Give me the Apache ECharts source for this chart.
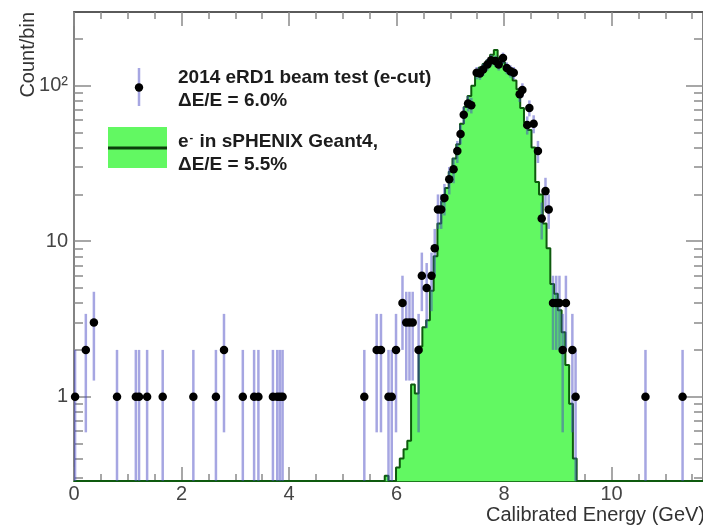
<!DOCTYPE html>
<html>
<head>
<meta charset="utf-8">
<script src="https://cdn.jsdelivr.net/npm/echarts@6/dist/echarts.min.js"></script>
<style>
html,body{margin:0;padding:0;background:#ffffff;}
#chart{width:703px;height:530px;}
</style>
</head>
<body>
<div id="chart"></div>
<script>
// ---- Beam test data points (bin centre in GeV, counts, error) ----
const dataX = [0.02,0.22,0.37,0.80,1.15,1.21,1.36,1.65,2.22,2.64,
               2.79,3.14,3.35,3.43,3.70,3.78,3.83,3.88,5.40,5.63,
               5.71,5.85,5.91,5.99,6.11,6.18,6.24,6.30,6.41,6.47,
               6.56,6.65,6.71,6.77,6.83,6.89,6.98,7.06,7.13,7.19,
               7.25,7.33,7.39,7.49,7.55,7.61,7.69,7.76,7.84,7.90,
               7.98,8.05,8.12,8.18,8.29,8.34,8.43,8.47,8.55,8.63,
               8.70,8.77,8.83,8.91,8.97,9.03,9.09,9.15,9.27,9.33,
               10.63,11.32];
const dataY = [1,2,3,1,1,1,1,1,1,1,
               2,1,1,1,1,1,1,1,1,2,
               2,1,1,2,4,3,3,3,2,6,
               5,6,9,16,16,19,25,29,38,49,
               65,77,75,121,120,127,137,146,144,137,
               151,130,124,121,88,94,56,72,57,38,
               14,21,16,4,4,4,2,4,2,1,
               1,1];
const dataErr = [1,1.41,1.73,1,1,1,1,1,1,1,
                 1.41,1,1,1,1,1,1,1,1,1.41,
                 1.41,1,1,1.41,2,1.73,1.73,1.73,1.41,2.45,
                 2.24,2.45,3,4,4,4.36,5,5.39,6.16,7,
                 8.06,8.77,8.66,11,10.95,11.27,11.7,12.08,12,11.7,
                 12.29,11.4,11.14,11,9.38,9.7,7.48,8.49,7.55,6.16,
                 3.74,4.58,4,2,2,2,1.41,2,1.41,1,
                 1,1];

// ---- Geant4 simulation histogram ----
const simStart = 5.78;      // left edge of first bin (GeV)
const simBinWidth = 0.07;   // GeV
const simCounts = [0.31,0,0,0.35,0.40,0.46,0.52,1.2,1.05,2.1,
                   2.8,3.1,4.8,8.0,13,18,22,28,34,42,
                   57,73,86,100,118,131,138,146,158,170,
                   151,141,130,118,108,95,72,58,52,40,
                   24,20,13,9,5.3,4.6,3.6,2.6,1.6,0.9,
                   0.4];

// ---- Axes ----
const X_MIN = 0, X_MAX = 11.7;
const Y_MIN = 0.287, Y_MAX = 298;
const xMajorTicks = [0,2,4,6,8,10];
const xMinorTicks = [0.5,1,1.5,2.5,3,3.5,4.5,5,5.5,6.5,7,7.5,8.5,9,9.5,10.5,11,11.5];
const yMajorTicks = [1,10,100];
const yTickLabels = ['1','10','10\u00B2'];
const yMinorTicks = [0.3,0.4,0.5,0.6,0.7,0.8,0.9,2,3,4,5,6,7,8,9,20,30,40,50,60,70,80,90,200];

const FONT = '"Liberation Sans", Arial, Helvetica, sans-serif';

// build histogram step line (left edge + value), zero bins drawn on the frame
const simLine = [[X_MIN, Y_MIN]];
simCounts.forEach(function (c, i) {
  simLine.push([+(simStart + i * simBinWidth).toFixed(4), Math.max(c, Y_MIN)]);
});
simLine.push([+(simStart + simCounts.length * simBinWidth).toFixed(4), Y_MIN]);
simLine.push([X_MAX, Y_MIN]);

const points = dataX.map(function (x, i) { return [x, dataY[i], dataErr[i]]; });

const chart = echarts.init(document.getElementById('chart'), null, {renderer: 'canvas'});

function xAxisDef(pos, ticks, len, showLine, showLabel, lineColor) {
  return {
    type: 'value', position: pos, min: X_MIN, max: X_MAX,
    axisLine: {show: showLine, onZero: false, lineStyle: {color: lineColor, width: 2}},
    axisTick: {show: true, inside: true, length: len, customValues: ticks,
               lineStyle: {color: '#8a8a8a', width: 1.5}},
    axisLabel: {show: showLabel, customValues: ticks, fontSize: 20, color: '#444',
                fontFamily: FONT, margin: 3},
    splitLine: {show: false}, minorTick: {show: false}
  };
}
function yAxisDef(pos, ticks, len, showLine, showLabel) {
  return {
    type: 'log', logBase: 10, position: pos, min: Y_MIN, max: Y_MAX,
    axisLine: {show: showLine, onZero: false, lineStyle: {color: '#5a5a5a', width: 1.5}},
    axisTick: {show: true, inside: true, length: len, customValues: ticks,
               lineStyle: {color: '#8a8a8a', width: 1.5}},
    axisLabel: {show: showLabel, customValues: ticks, fontSize: 20, color: '#444',
                fontFamily: FONT, margin: 6,
                formatter: function (v) {
                  for (let k = 0; k < yMajorTicks.length; k++) {
                    if (Math.abs(v - yMajorTicks[k]) < 1e-6 * yMajorTicks[k]) return yTickLabels[k];
                  }
                  return '';
                }},
    splitLine: {show: false}, minorTick: {show: false}
  };
}

const option = {
  backgroundColor: '#ffffff',
  animation: false,
  grid: {left: 74, right: -1, top: 12, bottom: 49, containLabel: false},
  xAxis: [
    xAxisDef('bottom', xMajorTicks, 14, true, true, '#1d7a1d'),
    xAxisDef('bottom', xMinorTicks, 7, false, false, '#1d7a1d'),
    xAxisDef('top', xMajorTicks, 14, true, false, '#5a5a5a'),
    xAxisDef('top', xMinorTicks, 7, false, false, '#5a5a5a')
  ],
  yAxis: [
    yAxisDef('left', yMajorTicks, 17, true, true),
    yAxisDef('left', yMinorTicks, 9, false, false),
    yAxisDef('right', yMajorTicks, 17, true, false),
    yAxisDef('right', yMinorTicks, 9, false, false)
  ],
  series: [
    {
      name: 'e- in sPHENIX Geant4',
      type: 'line', xAxisIndex: 0, yAxisIndex: 0,
      step: 'end', data: simLine, showSymbol: false, symbol: 'none',
      lineStyle: {color: '#0e5a0e', width: 2},
      areaStyle: {color: '#62f862', opacity: 1, origin: 'start'},
      z: 2, silent: true
    },
    {
      name: 'error bars',
      type: 'custom', xAxisIndex: 0, yAxisIndex: 0,
      data: points, encode: {x: 0, y: 1},
      renderItem: function (params, api) {
        const x = api.value(0), y = api.value(1), e = api.value(2);
        const lo = Math.max(y - e, Y_MIN);
        const p1 = api.coord([x, lo]);
        const p2 = api.coord([x, y + e]);
        return {
          type: 'line',
          shape: {x1: p1[0], y1: p1[1], x2: p2[0], y2: p2[1]},
          style: {stroke: 'rgba(70,70,195,0.48)', lineWidth: 2.5}
        };
      },
      clip: true, z: 3, silent: true
    },
    {
      name: '2014 eRD1 beam test (e-cut)',
      type: 'scatter', xAxisIndex: 0, yAxisIndex: 0,
      data: points.map(function (p) { return [p[0], p[1]]; }),
      symbol: 'circle', symbolSize: 8.5,
      itemStyle: {color: '#000000', opacity: 1},
      z: 4, silent: true
    }
  ],
  graphic: [
    {type: 'text', x: 28, y: 12, rotation: Math.PI / 2, z: 10,
     style: {text: 'Count/bin', fontSize: 20, fontFamily: FONT, fill: '#333',
             align: 'right', verticalAlign: 'middle'}},
    {type: 'text', x: 705, y: 515, z: 10,
     style: {text: 'Calibrated Energy (GeV)', fontSize: 20, fontFamily: FONT, fill: '#333',
             align: 'right', verticalAlign: 'middle'}},
    // legend: data entry
    {type: 'line', z: 10, shape: {x1: 139, y1: 68, x2: 139, y2: 106},
     style: {stroke: 'rgba(70,70,195,0.48)', lineWidth: 2.5}},
    {type: 'circle', z: 11, shape: {cx: 139, cy: 87.5, r: 4.2}, style: {fill: '#000'}},
    {type: 'text', x: 178, y: 78, z: 10,
     style: {text: '2014 eRD1 beam test (e-cut)', fontSize: 19, fontWeight: 'bold',
             fontFamily: FONT, fill: '#1c1c1c', align: 'left', verticalAlign: 'middle'}},
    {type: 'text', x: 178, y: 101, z: 10,
     style: {text: '\u0394E/E = 6.0%', fontSize: 19, fontWeight: 'bold',
             fontFamily: FONT, fill: '#1c1c1c', align: 'left', verticalAlign: 'middle'}},
    // legend: simulation entry
    {type: 'rect', z: 10, shape: {x: 108, y: 127, width: 59, height: 41}, style: {fill: '#62f862'}},
    {type: 'line', z: 11, shape: {x1: 108, y1: 148, x2: 167, y2: 148},
     style: {stroke: '#0b3f0b', lineWidth: 3}},
    {type: 'text', x: 178, y: 142, z: 10,
     style: {text: '{b|e}{s|-}{b| in sPHENIX Geant4,}', fontFamily: FONT, fill: '#1c1c1c',
             align: 'left', verticalAlign: 'middle',
             rich: {b: {fontSize: 19, fontWeight: 'bold', fontFamily: FONT, fill: '#1c1c1c'},
                    s: {fontSize: 11, fontWeight: 'bold', fontFamily: FONT, fill: '#1c1c1c',
                        verticalAlign: 'top', padding: [0, 1, 8, 1]}}}},
    {type: 'text', x: 178, y: 165, z: 10,
     style: {text: '\u0394E/E = 5.5%', fontSize: 19, fontWeight: 'bold',
             fontFamily: FONT, fill: '#1c1c1c', align: 'left', verticalAlign: 'middle'}}
  ]
};
chart.setOption(option);
</script>
</body>
</html>
